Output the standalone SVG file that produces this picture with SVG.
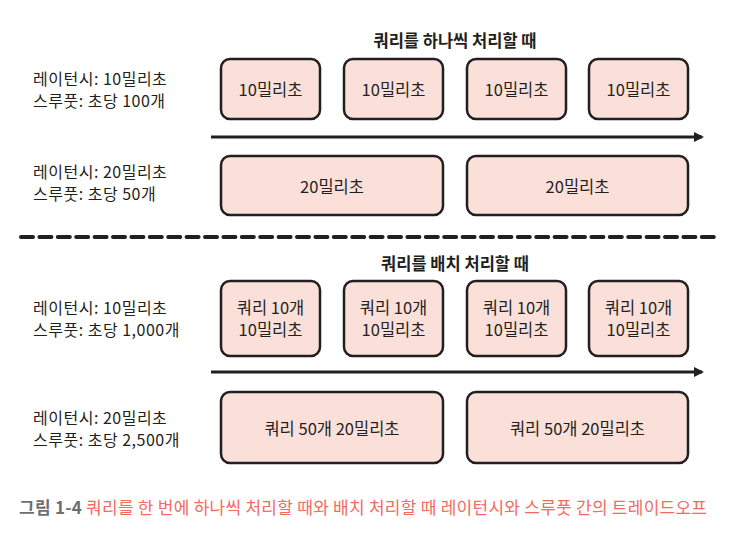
<svg xmlns="http://www.w3.org/2000/svg" width="730" height="541" viewBox="0 0 730 541">
<defs>
<style>
text{font-family:"Noto Sans CJK KR","Noto Sans",sans-serif;fill:#231f20}
.lbl{font-size:16px;letter-spacing:0.5px}
.box rect{fill:#fbe0da;stroke:#231f20;stroke-width:2.5}
.box text{font-size:16.5px;text-anchor:middle;dominant-baseline:central}
.ttl{font-size:16.5px;font-weight:bold;text-anchor:middle}
.axis{stroke:#231f20;stroke-width:3;fill:none}
.cap{font-size:17px}
</style>
<marker id="ah" markerWidth="10" markerHeight="10" refX="8" refY="5" orient="auto" markerUnits="userSpaceOnUse">
<path d="M0,0 L10,5 L0,10 Z" fill="#231f20"/>
</marker>
</defs>
<rect width="730" height="541" fill="#fff"/>

<text class="ttl" x="455" y="47">쿼리를 하나씩 처리할 때</text>
<text class="ttl" x="455" y="270">쿼리를 배치 처리할 때</text>

<g id="labels" class="lbl">
<text x="33" y="85">레이턴시: 10밀리초</text>
<text x="33" y="107">스루풋: 초당 100개</text>
<text x="33" y="178">레이턴시: 20밀리초</text>
<text x="33" y="200">스루풋: 초당 50개</text>
<text x="33" y="314">레이턴시: 10밀리초</text>
<text x="33" y="336">스루풋: 초당 1,000개</text>
<text x="33" y="424">레이턴시: 20밀리초</text>
<text x="33" y="446">스루풋: 초당 2,500개</text>
</g>

<g id="connectors">
<line class="axis" x1="211" y1="137" x2="702" y2="137" marker-end="url(#ah)"/>
<line class="axis" x1="211" y1="372" x2="702" y2="372" marker-end="url(#ah)"/>
<line x1="21" y1="237" x2="715" y2="237" stroke="#231f20" stroke-width="4" stroke-dasharray="12 6.4" stroke-linecap="round"/>
</g>

<g id="s1" class="box"><rect x="221" y="59" width="99" height="60" rx="9"/><text x="270.5" y="89">10밀리초</text></g>
<g id="s2" class="box"><rect x="344" y="59" width="99" height="60" rx="9"/><text x="393.5" y="89">10밀리초</text></g>
<g id="s3" class="box"><rect x="467" y="59" width="99" height="60" rx="9"/><text x="516.5" y="89">10밀리초</text></g>
<g id="s4" class="box"><rect x="589" y="59" width="99" height="60" rx="9"/><text x="638.5" y="89">10밀리초</text></g>

<g id="s5" class="box"><rect x="221" y="156" width="222" height="59" rx="9"/><text x="332" y="185.5">20밀리초</text></g>
<g id="s6" class="box"><rect x="467" y="156" width="221" height="59" rx="9"/><text x="577.5" y="185.5">20밀리초</text></g>

<g id="b1" class="box"><rect x="221" y="281" width="99" height="75" rx="9"/><text x="270.5" y="307">쿼리 10개</text><text x="270.5" y="329">10밀리초</text></g>
<g id="b2" class="box"><rect x="344" y="281" width="99" height="75" rx="9"/><text x="393.5" y="307">쿼리 10개</text><text x="393.5" y="329">10밀리초</text></g>
<g id="b3" class="box"><rect x="467" y="281" width="99" height="75" rx="9"/><text x="516.5" y="307">쿼리 10개</text><text x="516.5" y="329">10밀리초</text></g>
<g id="b4" class="box"><rect x="589" y="281" width="99" height="75" rx="9"/><text x="638.5" y="307">쿼리 10개</text><text x="638.5" y="329">10밀리초</text></g>

<g id="b5" class="box"><rect x="221" y="392" width="222" height="71" rx="9"/><text x="332" y="428">쿼리 50개 20밀리초</text></g>
<g id="b6" class="box"><rect x="467" y="392" width="221" height="71" rx="9"/><text x="577.5" y="428">쿼리 50개 20밀리초</text></g>

<text class="cap" x="19" y="514" textLength="688" lengthAdjust="spacing"><tspan font-weight="bold" style="fill:#6d6e71">그림 1-4</tspan><tspan style="fill:#f26b61"> 쿼리를 한 번에 하나씩 처리할 때와 배치 처리할 때 레이턴시와 스루풋 간의 트레이드오프</tspan></text>
</svg>
